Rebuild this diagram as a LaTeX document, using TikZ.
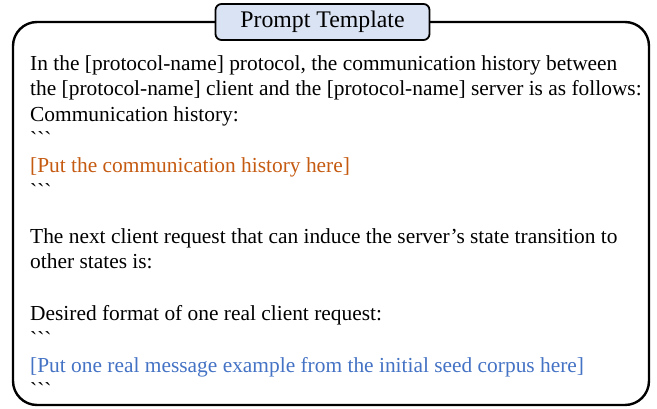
\documentclass[tikz,border=0pt]{standalone}
\usepackage{fontspec}
\setmainfont{Liberation Serif}
\definecolor{titlefill}{HTML}{DAE3F3}
\definecolor{histcol}{HTML}{C55A11}
\definecolor{seedcol}{HTML}{4472C4}
\newcommand{\ticks}{\textasciigrave\textasciigrave\textasciigrave}
\begin{document}
\begin{tikzpicture}[x=1pt,y=-1pt,
  line/.style={anchor=base west,inner sep=0pt,font=\fontsize{21.4}{24}\selectfont},
  outer/.style={draw=black,line width=2.4pt,rounded corners=24pt},
  titlebox/.style={draw=black,line width=1.8pt,rounded corners=6pt,fill=titlefill,
    minimum width=214pt,minimum height=36pt,inner sep=0pt,font=\fontsize{23.8}{26}\selectfont}]
\useasboundingbox (0,0) rectangle (657,409);
\draw[outer] (13,22) rectangle (649,405);
\node[titlebox] (title) at (322.5,22) {Prompt Template};
\node[line] (l1) at (30,71) {In the [protocol-name] protocol, the communication history between};
\node[line] (l2) at (30,96) {the [protocol-name] client and the [protocol-name] server is as follows:};
\node[line] (l3) at (30,122) {Communication history:};
\node[line] (l4) at (30,147) {\ticks};
\node[line,text=histcol] (l5) at (30,173) {[Put the communication history here]};
\node[line] (l6) at (30,199) {\ticks};
\node[line] (l7) at (30,244) {The next client request that can induce the server’s state transition to};
\node[line] (l8) at (30,269) {other states is:};
\node[line] (l9) at (30,320) {Desired format of one real client request:};
\node[line] (l10) at (30,346) {\ticks};
\node[line,text=seedcol] (l11) at (30,373) {[Put one real message example from the initial seed corpus here]};
\node[line] (l12) at (30,397) {\ticks};
\end{tikzpicture}
\end{document}
